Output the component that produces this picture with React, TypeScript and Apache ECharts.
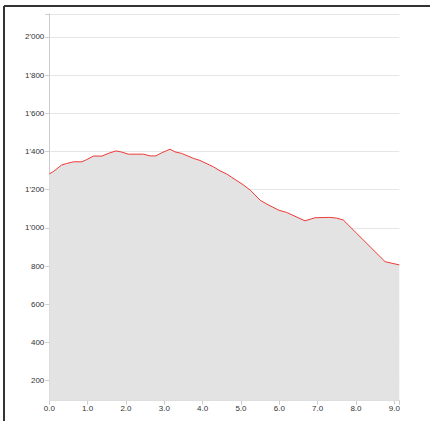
import React, { useEffect, useRef } from "react";
import * as echarts from "echarts";

const distances = [0, 0.1, 0.32, 0.45, 0.63, 0.85, 0.98, 1.15, 1.37, 1.58, 1.74, 1.89, 2.06, 2.45, 2.63, 2.78, 2.93, 3.15, 3.28, 3.45, 3.76, 3.93, 4.28, 4.45, 4.63, 4.75, 5.07, 5.24, 5.5, 5.67, 5.98, 6.19, 6.67, 6.93, 7.32, 7.5, 7.67, 8.02, 8.37, 8.76, 9.13];
const elevations = [1283, 1294, 1329, 1337, 1346, 1346, 1358, 1376, 1376, 1393, 1403, 1397, 1386, 1386, 1377, 1377, 1393, 1412, 1398, 1390, 1364, 1353, 1320, 1299, 1282, 1266, 1224, 1198, 1145, 1125, 1093, 1081, 1037, 1053, 1055, 1051, 1041, 971, 901, 823, 806];
const yTicks = [200, 400, 600, 800, 1000, 1200, 1400, 1600, 1800, 2000];
const xTicks = [0, 1, 2, 3, 4, 5, 6, 7, 8, 9];

export default function App() {
  const ref = useRef<HTMLDivElement>(null);
  useEffect(() => {
    const chart = echarts.init(ref.current!, null, { renderer: "svg" });
    const font = "Liberation Sans, Arial, sans-serif";
    chart.setOption({
      animation: false,
      grid: { left: 49.3, right: 30.7, top: 14, bottom: 20.3 },
      xAxis: {
        type: "value",
        min: 0,
        max: 9.13,
        interval: 1,
        axisLine: { show: true, lineStyle: { color: "#cccccc", width: 1 } },
        axisTick: { show: true, length: 4, lineStyle: { color: "#cccccc" }, customValues: xTicks.concat([9.13]) },
        axisLabel: {
          customValues: xTicks,
          formatter: (v: number) => v.toFixed(1),
          fontSize: 8,
          color: "#333",
          fontFamily: font,
          margin: 4,
        },
        splitLine: { show: false },
      },
      yAxis: {
        type: "value",
        min: 95,
        max: 2120,
        axisLine: { show: true, lineStyle: { color: "#cccccc", width: 1 } },
        axisTick: { show: true, length: 4, lineStyle: { color: "#cccccc" }, customValues: yTicks.concat([2120]) },
        axisLabel: {
          customValues: yTicks,
          formatter: (v: number) => (v >= 1000 ? Math.floor(v / 1000) + "'" + String(v % 1000).padStart(3, "0") : String(v)),
          fontSize: 8,
          color: "#333",
          fontFamily: font,
          margin: 5,
        },
        splitLine: { show: true, lineStyle: { color: "#e6e6e6", width: 1 } },
      },
      series: [
        {
          type: "line",
          data: distances.map((d, i) => [d, elevations[i]]),
          showSymbol: false,
          symbol: "none",
          lineStyle: { color: "#ee3a36", width: 1 },
          areaStyle: { color: "#e3e3e3", opacity: 1, origin: "start" },
        },
      ],
      graphic: [
        { type: "line", shape: { x1: 4, y1: 6, x2: 430, y2: 6 }, style: { stroke: "#333", lineWidth: 2 } },
        { type: "line", shape: { x1: 4, y1: 6, x2: 4, y2: 421 }, style: { stroke: "#333", lineWidth: 2 } },
      ],
    });
    return () => chart.dispose();
  }, []);
  return <div ref={ref} style={{ position: "fixed", left: 0, top: 0, width: 430, height: 421, background: "#fff" }} />;
}
